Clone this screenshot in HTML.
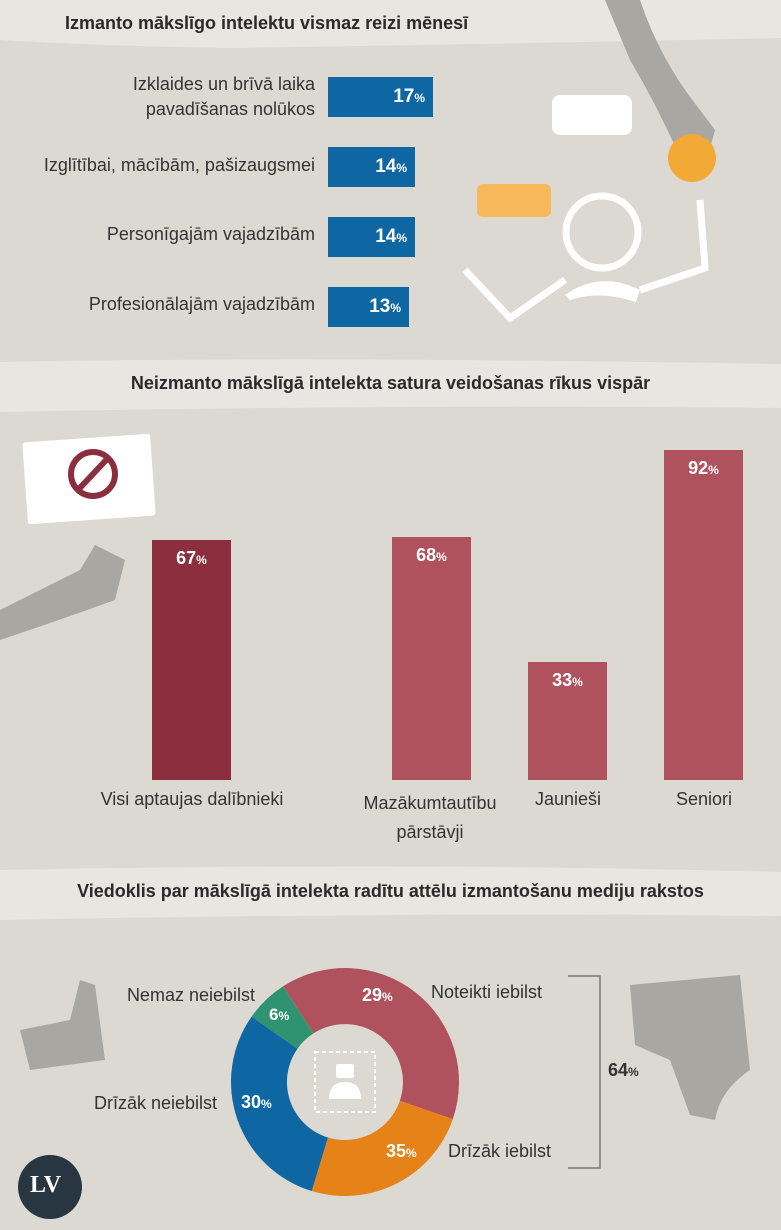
<!DOCTYPE html>
<html><head><meta charset="utf-8"><style>
body{margin:0;width:781px;height:1230px;background:#dcd9d2;position:relative;overflow:hidden;font-family:"Liberation Sans","DejaVu Sans",sans-serif;color:#2b2b2b}
.abs{position:absolute}
.h{font-weight:bold;font-size:18px;color:#2a2a2a}
.lbl{font-size:18px;color:#333;text-align:right}
.bar{position:absolute;background:#0e67a3;color:#fff;font-weight:bold;font-size:19px;text-align:right;box-sizing:border-box;padding-right:8px;line-height:40px;height:40px}
.vb{position:absolute;color:#fff;font-weight:bold;font-size:18px;text-align:center;padding-top:8px;box-sizing:border-box}
.vl{position:absolute;font-size:18px;color:#333;text-align:center}
small{font-size:12px}
</style></head><body>
<svg class="abs" style="left:0;top:0" width="781" height="1230">
<path d="M0 0H781V38Q500 44 230 48Q100 46 0 40Z" fill="#e8e6e1"/>
<path d="M0 362Q300 356 781 364V408Q400 404 0 412Z" fill="#e8e6e1"/>
<path d="M0 870Q400 862 781 872V916Q400 912 0 920Z" fill="#e8e6e1"/>
<path d="M605 0L640 0Q660 60 700 110L715 130Q705 170 690 180Q660 110 630 60Z" fill="#a9a7a2"/>
<circle cx="692" cy="158" r="24" fill="#f3a935"/>
<rect x="552" y="95" width="80" height="40" rx="8" fill="#fff"/>
<rect x="477" y="184" width="74" height="33" rx="6" fill="#f7b95c"/>
<circle cx="602" cy="232" r="36" fill="none" stroke="#fff" stroke-width="7"/>
<path d="M565 295Q600 270 640 290L636 302Q600 290 570 300Z" fill="#fff"/>
<path d="M465 270L510 318L565 280M640 290L705 268L700 200" fill="none" stroke="#fff" stroke-width="7"/>
<rect x="25" y="438" width="128" height="82" rx="3" fill="#fff" transform="rotate(-4 89 479)"/>
<circle cx="93" cy="474" r="22" fill="none" stroke="#8b2f3e" stroke-width="6"/>
<line x1="78" y1="490" x2="108" y2="458" stroke="#8b2f3e" stroke-width="6"/>
<path d="M0 610Q40 590 80 570L95 545L125 560L115 600Q60 620 0 640Z" fill="#a9a7a2"/>
<g transform="translate(345,1082)">
<path d="M-62.1 -95.6A114 114 0 0 1 107.8 37.1L54.8 18.9A58 58 0 0 0 -31.6 -48.6Z" fill="#b0525e"/>
<path d="M107.8 37.1A114 114 0 0 1 -33.3 109L-17 55.5A58 58 0 0 0 54.8 18.9Z" fill="#e58218"/>
<path d="M-33.3 109A114 114 0 0 1 -93.4 -65.4L-47.5 -33.3A58 58 0 0 0 -17 55.5Z" fill="#0e67a3"/>
<path d="M-93.4 -65.4A114 114 0 0 1 -62.1 -95.6L-31.6 -48.6A58 58 0 0 0 -47.5 -33.3Z" fill="#2f9270"/>
<rect x="-30" y="-30" width="60" height="60" fill="none" stroke="#fff" stroke-width="2" stroke-dasharray="4 3"/>
<rect x="-9" y="-18" width="18" height="14" rx="2" fill="#fff"/>
<path d="M-16 17Q-16 0 0 0Q16 0 16 17Z" fill="#fff"/>
</g>
<path d="M568 976H600V1168H568" fill="none" stroke="#777" stroke-width="1.5"/>
<path d="M630 985L740 975L750 1070Q720 1090 715 1120L690 1115L670 1060L635 1045Z" fill="#a9a7a2"/>
<path d="M20 1030L70 1020L80 980L95 985L105 1060L30 1070Z" fill="#a9a7a2"/>
<circle cx="50" cy="1187" r="32" fill="#273640"/>
</svg>
<div class="abs h" style="left:65px;top:13px">Izmanto mākslīgo intelektu vismaz reizi mēnesī</div>
<div class="abs lbl" style="left:40px;width:275px;top:72px;line-height:25px">Izklaides un brīvā laika<br>pavadīšanas nolūkos</div>
<div class="abs lbl" style="left:0;width:315px;top:155px">Izglītībai, mācībām, pašizaugsmei</div>
<div class="abs lbl" style="left:0;width:315px;top:224px">Personīgajām vajadzībām</div>
<div class="abs lbl" style="left:0;width:315px;top:294px">Profesionālajām vajadzībām</div>
<div class="bar" style="left:328px;top:77px;width:105px">17<small>%</small></div>
<div class="bar" style="left:328px;top:147px;width:87px">14<small>%</small></div>
<div class="bar" style="left:328px;top:217px;width:87px">14<small>%</small></div>
<div class="bar" style="left:328px;top:287px;width:81px">13<small>%</small></div>
<div class="abs h" style="left:0;width:781px;text-align:center;top:373px">Neizmanto mākslīgā intelekta satura veidošanas rīkus vispār</div>
<div class="vb" style="left:152px;top:540px;width:79px;height:240px;background:#8b2f3e">67<small>%</small></div>
<div class="vb" style="left:392px;top:537px;width:79px;height:243px;background:#b0525e">68<small>%</small></div>
<div class="vb" style="left:528px;top:662px;width:79px;height:118px;background:#b0525e">33<small>%</small></div>
<div class="vb" style="left:664px;top:450px;width:79px;height:330px;background:#b0525e">92<small>%</small></div>
<div class="vl" style="left:62px;width:260px;top:789px">Visi aptaujas dalībnieki</div>
<div class="vl" style="left:330px;width:200px;top:789px;line-height:29px">Mazākumtautību<br>pārstāvji</div>
<div class="vl" style="left:508px;width:120px;top:789px">Jaunieši</div>
<div class="vl" style="left:644px;width:120px;top:789px">Seniori</div>
<div class="abs h" style="left:0;width:781px;text-align:center;top:881px">Viedoklis par mākslīgā intelekta radītu attēlu izmantošanu mediju rakstos</div>
<div class="abs lbl" style="left:90px;width:165px;top:985px">Nemaz neiebilst</div>
<div class="abs lbl" style="left:30px;width:187px;top:1093px">Drīzāk neiebilst</div>
<div class="abs" style="left:431px;top:982px;font-size:18px;color:#333">Noteikti iebilst</div>
<div class="abs" style="left:448px;top:1141px;font-size:18px;color:#333">Drīzāk iebilst</div>
<div class="abs" style="left:608px;top:1060px;font-weight:bold;font-size:18px;color:#333">64<small>%</small></div>
<div class="abs" style="left:362px;top:985px;color:#fff;font-weight:bold;font-size:18px">29<small>%</small></div>
<div class="abs" style="left:269px;top:1005px;color:#fff;font-weight:bold;font-size:17px">6<small>%</small></div>
<div class="abs" style="left:241px;top:1092px;color:#fff;font-weight:bold;font-size:18px">30<small>%</small></div>
<div class="abs" style="left:386px;top:1141px;color:#fff;font-weight:bold;font-size:18px">35<small>%</small></div>
<div class="abs" style="left:30px;top:1172px;color:#fff;font-weight:bold;font-size:24px;font-family:'Liberation Serif',serif">LV</div>
</body></html>
